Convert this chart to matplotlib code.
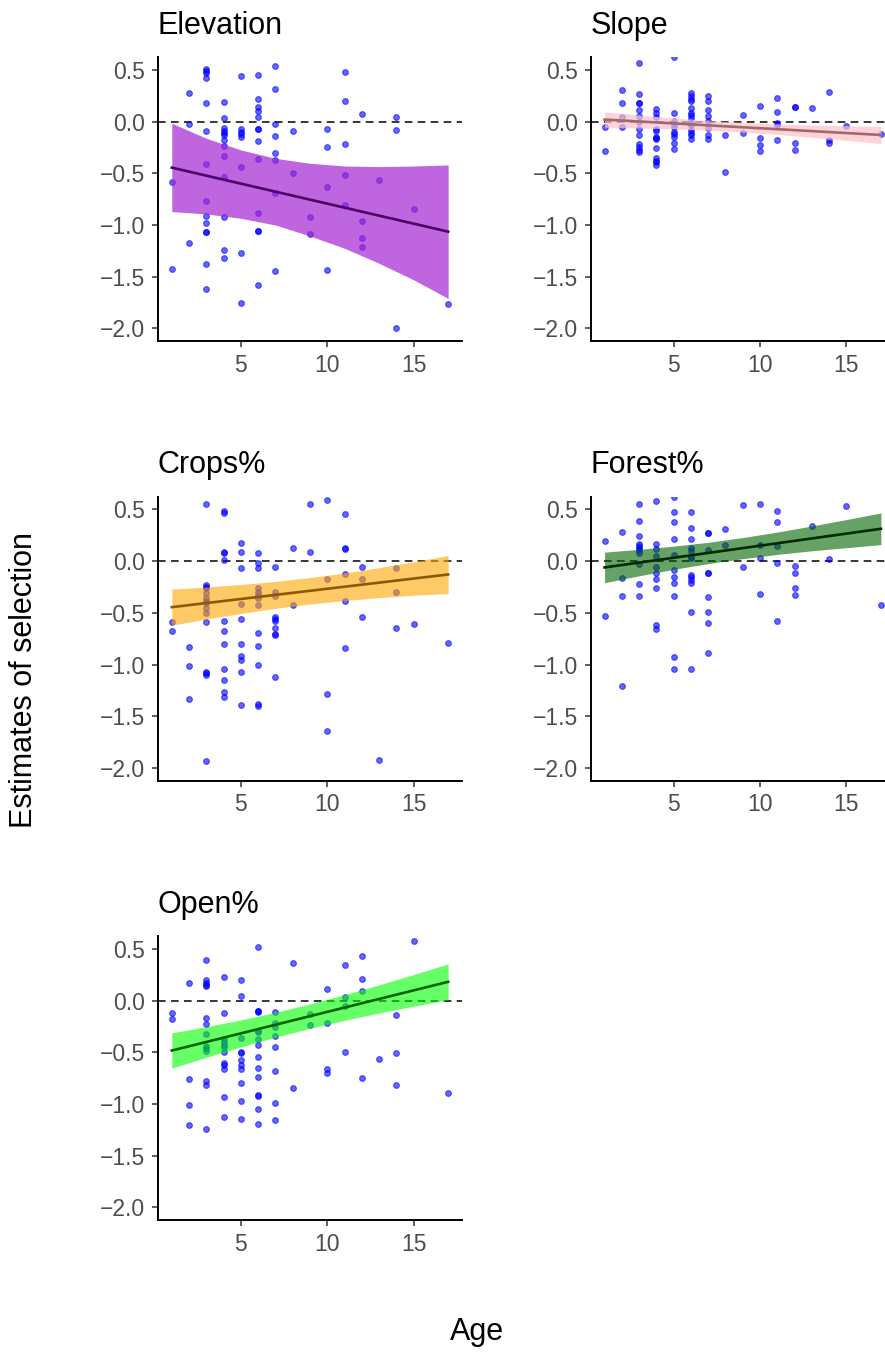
import matplotlib
matplotlib.use('Agg')
import matplotlib.pyplot as plt

plt.rcParams['font.family'] = ['Liberation Sans', 'DejaVu Sans']

# ── data: estimates grouped by age ───
elev_pts = {
    1: [-0.586, -1.428],
    2: [0.274, -0.026, -1.17],
    3: [0.506, 0.493, 0.474, 0.423, 0.177, -0.087, -0.413, -0.767, -0.912, -0.977, -1.064, -1.064, -1.376, -1.62],
    4: [0.187, 0.039, -0.064, -0.09, -0.11, -0.129, -0.177, -0.232, -0.332, -0.535, -0.922, -1.24, -1.315],
    5: [0.445, -0.074, -0.097, -0.12, -0.15, -0.44, -1.267, -1.75],
    6: [0.455, 0.216, 0.139, 0.103, 0.049, -0.075, -0.075, -0.184, -0.364, -0.886, -1.06, -1.06, -1.576],
    7: [0.535, 0.316, -0.022, -0.135, -0.3, -0.37, -0.69, -1.44],
    8: [-0.093, -0.5],
    9: [-0.918, -1.086],
    10: [-0.067, -0.25, -0.637, -1.437],
    11: [0.481, 0.203, -0.213, -0.512, -0.809],
    12: [0.071, -0.964, -1.125, -1.209],
    13: [-0.567],
    14: [0.045, -0.077, -1.992],
    15: [-0.849],
    17: [-1.763],
}

slope_pts = {
    1: [-0.048, -0.28],
    2: [0.306, 0.177, 0.049, -0.052],
    3: [0.564, 0.27, 0.184, 0.177, 0.113, 0.058, -0.006, -0.074, -0.132, -0.219, -0.248, -0.274, -0.293],
    4: [0.126, 0.087, 0.049, -0.074, -0.09, -0.145, -0.16, -0.171, -0.251, -0.355, -0.377, -0.393, -0.419],
    5: [0.629, 0.087, 0.01, -0.022, -0.055, -0.097, -0.12, -0.151, -0.209, -0.264],
    6: [0.281, 0.252, 0.223, 0.197, 0.129, 0.081, 0.065, 0.032, -0.009, -0.032, -0.08, -0.113, -0.132, -0.171],
    7: [0.249, 0.2, 0.113, 0.055, 0.007, -0.064, -0.129, -0.171],
    8: [-0.129, -0.483],
    9: [0.068, -0.109],
    10: [0.155, -0.154, -0.225, -0.28],
    11: [0.229, 0.09, -0.009, -0.032, -0.177],
    12: [0.145, 0.139, -0.209, -0.271],
    13: [0.132],
    14: [0.287, -0.177, -0.209],
    15: [-0.039],
    17: [-0.119],
}

crops_pts = {
    1: [-0.584, -0.677],
    2: [-0.835, -1.012, -1.335],
    3: [0.551, -0.232, -0.248, -0.255, -0.313, -0.361, -0.384, -0.403, -0.451, -0.506, -0.593, -1.07, -1.08, -1.103, -1.934],
    4: [0.487, 0.467, 0.09, 0.074, 0.01, -0.58, -0.674, -0.803, -1.045, -1.151, -1.27, -1.318],
    5: [0.171, 0.09, -0.071, -0.419, -0.564, -0.806, -0.919, -0.957, -1.07, -1.396],
    6: [0.074, -0.016, -0.064, -0.258, -0.297, -0.329, -0.361, -0.426, -0.696, -0.822, -1.006, -1.383, -1.402],
    7: [-0.058, -0.297, -0.338, -0.545, -0.564, -0.577, -0.651, -0.706, -0.712, -1.119],
    8: [0.129, -0.429],
    9: [0.551, 0.09],
    10: [0.587, -0.171, -1.283, -1.647],
    11: [0.455, 0.129, 0.119, -0.129, -0.384, -0.838],
    12: [-0.061, -0.177, -0.545],
    13: [-1.925],
    14: [-0.068, -0.3, -0.648],
    15: [-0.609],
    17: [-0.787],
}

forest_pts = {
    1: [0.19, -0.532],
    2: [0.277, -0.161, -0.342, -1.206],
    3: [0.551, 0.39, 0.242, 0.161, 0.148, 0.129, 0.106, 0.081, -0.023, -0.222, -0.335],
    4: [0.583, 0.164, 0.116, 0.048, -0.061, -0.113, -0.171, -0.261, -0.619, -0.658],
    5: [0.622, 0.471, 0.377, 0.21, 0.058, -0.081, -0.152, -0.21, -0.335, -0.932, -1.041],
    6: [0.477, 0.319, 0.216, 0.123, 0.1, 0.042, 0.032, -0.135, -0.158, -0.184, -0.216, -0.493, -1.048],
    7: [0.274, 0.274, 0.11, -0.113, -0.119, -0.345, -0.493, -0.596, -0.887],
    8: [0.306, 0.155],
    9: [0.542, -0.058],
    10: [0.551, 0.158, 0.032, -0.322],
    11: [0.487, 0.374, 0.145, -0.016, -0.577],
    12: [-0.045, -0.119, -0.255, -0.326],
    13: [0.342],
    14: [0.019],
    15: [0.535],
    17: [-0.426],
}

open_pts = {
    1: [-0.116, -0.181],
    2: [0.168, -0.761, -1.015, -1.202],
    3: [0.393, 0.2, 0.168, 0.148, 0.142, -0.171, -0.232, -0.326, -0.438, -0.461, -0.493, -0.783, -0.822, -1.244],
    4: [0.229, -0.116, -0.371, -0.397, -0.429, -0.451, -0.5, -0.606, -0.622, -0.658, -0.938, -1.125],
    5: [0.203, 0.042, -0.364, -0.5, -0.509, -0.574, -0.625, -0.664, -0.8, -0.97, -1.148],
    6: [0.516, -0.097, -0.103, -0.113, -0.297, -0.303, -0.374, -0.435, -0.542, -0.654, -0.735, -0.912, -0.928, -1.051, -1.196],
    7: [-0.11, -0.213, -0.261, -0.342, -0.451, -0.683, -0.99, -1.154],
    8: [0.361, -0.845],
    9: [-0.132, -0.239],
    10: [0.116, -0.213, -0.658, -0.703],
    11: [0.339, 0.032, -0.052, -0.496],
    12: [0.435, 0.206, 0.09, -0.754],
    13: [-0.564],
    14: [-0.142, -0.503, -0.816],
    15: [0.571],
    17: [-0.89],
}

# fitted line ends and confidence ribbons
fit_age = [1, 17]
band_age = [1, 3, 5, 7, 9, 11, 13, 15, 17]

elev_fit = [-0.445, -1.064]
elev_hi = [-0.016, -0.161, -0.274, -0.355, -0.403, -0.429, -0.435, -0.429, -0.419]
elev_lo = [-0.870, -0.893, -0.935, -1.000, -1.106, -1.225, -1.370, -1.530, -1.710]

slope_fit = [0.020, -0.129]
slope_hi = [0.095, 0.063, 0.035, 0.010, -0.008, -0.022, -0.033, -0.040, -0.046]
slope_lo = [-0.055, -0.061, -0.069, -0.082, -0.100, -0.124, -0.151, -0.180, -0.212]

crops_fit = [-0.445, -0.129]
crops_hi = [-0.271, -0.250, -0.226, -0.196, -0.159, -0.115, -0.063, -0.006, 0.055]
crops_lo = [-0.619, -0.560, -0.506, -0.456, -0.415, -0.381, -0.353, -0.330, -0.313]

forest_fit = [-0.061, 0.313]
forest_hi = [0.087, 0.114, 0.145, 0.182, 0.228, 0.281, 0.340, 0.402, 0.466]
forest_lo = [-0.209, -0.142, -0.079, -0.024, 0.024, 0.065, 0.100, 0.130, 0.160]

open_fit = [-0.484, 0.181]
open_hi = [-0.313, -0.253, -0.188, -0.115, -0.033, 0.056, 0.151, 0.251, 0.354]
open_lo = [-0.655, -0.549, -0.448, -0.355, -0.269, -0.192, -0.121, -0.055, 0.008]

y_ticks = [0.5, 0.0, -0.5, -1.0, -1.5, -2.0]
x_ticks = [5, 10, 15]

panels = [
    ('Elevation', elev_pts, elev_fit, elev_lo, elev_hi, '#A524D3', 0.7, '#4B0066'),
    ('Slope', slope_pts, slope_fit, slope_lo, slope_hi, '#FFC0CB', 0.7, '#9C6B6B'),
    ('Crops%', crops_pts, crops_fit, crops_lo, crops_hi, '#FFA500', 0.6, '#8B5A00'),
    ('Forest%', forest_pts, forest_fit, forest_lo, forest_hi, '#006400', 0.6, '#002B00'),
    ('Open%', open_pts, open_fit, open_lo, open_hi, '#00FF00', 0.6, '#006400'),
]

# ── layout (axes positions in figure fractions) ───────────
fig = plt.figure(figsize=(8.85, 13.54), dpi=100)
col_left = [0.1785, 0.6675]
row_bottom = [0.7479, 0.4233, 0.0988]
ax_w, ax_h = 0.3435, 0.2100

for i, (name, pts, fit, lo, hi, fcol, falpha, lcol) in enumerate(panels):
    r, c = divmod(i, 2)
    ax = fig.add_axes([col_left[c], row_bottom[r], ax_w, ax_h])
    age = [a for a, vals in pts.items() for _ in vals]
    est = [v for vals in pts.values() for v in vals]

    ax.axhline(0, color='black', lw=1.1, dashes=(5, 3.5), zorder=1)
    ax.scatter(age, est, s=17, color='blue', alpha=0.6, linewidths=0.8, zorder=2)
    ax.fill_between(band_age, lo, hi, color=fcol, alpha=falpha, lw=0, zorder=3)
    ax.plot(fit_age, fit, color=lcol, lw=1.9, zorder=4)

    ax.set_xlim(0.2, 17.8)
    ax.set_ylim(-2.125, 0.625)
    ax.set_xticks(x_ticks)
    ax.set_yticks(y_ticks)
    ax.set_yticklabels([f'{t:.1f}'.replace('-', '\u2212') for t in y_ticks])
    for s in ['top', 'right']:
        ax.spines[s].set_visible(False)
    for s in ['left', 'bottom']:
        ax.spines[s].set_linewidth(1.4)
        ax.spines[s].set_color('black')
    ax.tick_params(length=4.5, width=1.1, color='#333333', labelcolor='#4D4D4D',
                   labelsize=16.5, pad=4.5)
    ax.text(0, 1.081, name, transform=ax.transAxes, fontsize=22,
            ha='left', va='baseline')

fig.text(0.027, 0.498, 'Estimates of selection', rotation=90, fontsize=22,
         ha='center', va='center')
fig.text(0.539, 0.0103, 'Age', fontsize=22, ha='center', va='baseline')

plt.savefig('out.png', dpi=100)
